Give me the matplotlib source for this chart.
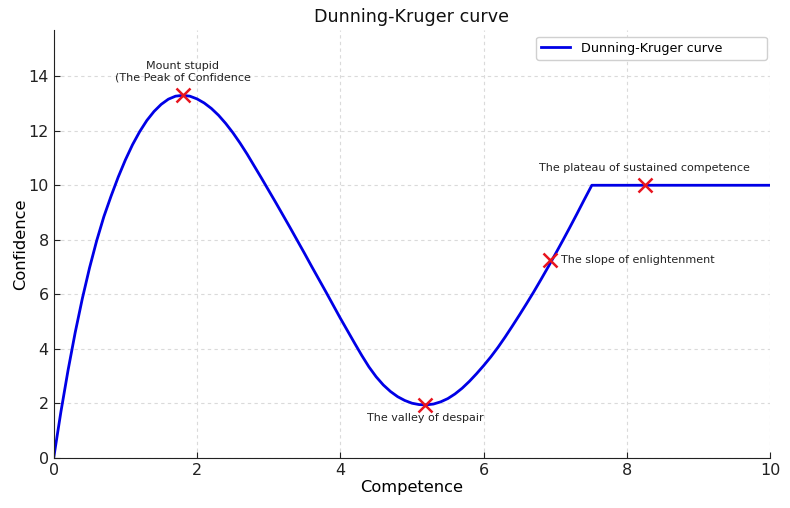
import matplotlib
matplotlib.use("Agg")
import matplotlib.pyplot as plt

# Curve (competence -> confidence)
competence = [0.0, 0.1, 0.2, 0.3, 0.4, 0.5, 0.6, 0.7, 0.8, 0.9,
              1.0, 1.1, 1.2, 1.3, 1.4, 1.5, 1.6, 1.7, 1.8, 1.9,
              2.0, 2.1, 2.2, 2.3, 2.4, 2.5, 2.6, 2.7, 2.8, 2.9,
              3.0, 3.1, 3.2, 3.3, 3.4, 3.5, 3.6, 3.7, 3.8, 3.9,
              4.0, 4.1, 4.2, 4.3, 4.4, 4.5, 4.6, 4.7, 4.8, 4.9,
              5.0, 5.1, 5.2, 5.3, 5.4, 5.5, 5.6, 5.7, 5.8, 5.9,
              6.0, 6.1, 6.2, 6.3, 6.4, 6.5, 6.6, 6.7, 6.8, 6.9,
              7.0, 7.1, 7.2, 7.3, 7.4, 7.51, 10.0]
confidence = [0.0, 1.68, 3.21, 4.6, 5.85, 6.97, 7.97, 8.85, 9.6, 10.3,
              10.93, 11.49, 11.97, 12.38, 12.71, 12.97, 13.16, 13.27, 13.3, 13.27,
              13.17, 13.02, 12.82, 12.57, 12.27, 11.93, 11.55, 11.14, 10.7, 10.26,
              9.81, 9.36, 8.9, 8.44, 7.97, 7.5, 7.02, 6.55, 6.08, 5.6,
              5.12, 4.66, 4.2, 3.75, 3.33, 2.97, 2.67, 2.43, 2.24, 2.1,
              2.0, 1.95, 1.94, 1.97, 2.05, 2.17, 2.34, 2.55, 2.8, 3.08,
              3.38, 3.7, 4.05, 4.43, 4.83, 5.24, 5.66, 6.09, 6.54, 7.0,
              7.47, 7.95, 8.44, 8.94, 9.45, 10.0, 10.0]

# Marked stages
stage_x = [1.8, 5.18, 6.93, 8.25]
stage_y = [13.3, 1.94, 7.27, 10.0]
stage_labels = ["Mount stupid\n(The Peak of Confidence",
                "The valley of despair",
                "The slope of enlightenment",
                "The plateau of sustained competence"]

fig = plt.figure(figsize=(7.9, 5.08), dpi=100)
ax = fig.add_axes([0.068, 0.099, 0.907, 0.842])

ax.plot(competence, confidence, color="#0000e6", lw=2.0, label="Dunning-Kruger curve")
ax.plot(stage_x, stage_y, ls="none", marker="x", color="#e8141e", ms=10, mew=1.8)

# label placement: (offset in points, ha, va)
placements = [((0, 9), "center", "bottom"),
              ((0, -6), "center", "top"),
              ((8, 0), "left", "center"),
              ((0, 9), "center", "bottom")]
for x, y, txt, (off, ha, va) in zip(stage_x, stage_y, stage_labels, placements):
    ax.annotate(txt, (x, y), xytext=off, textcoords="offset points",
                ha=ha, va=va, fontsize=8, color="#222222")

ax.set_xlim(0, 10)
ax.set_ylim(0, 15.7)
ax.set_xticks([0, 2, 4, 6, 8, 10])
ax.set_yticks([0, 2, 4, 6, 8, 10, 12, 14])
ax.tick_params(direction="in", length=4, labelsize=11.5, colors="#222222")
for side in ["top", "right"]:
    ax.spines[side].set_visible(False)
for side in ["left", "bottom"]:
    ax.spines[side].set_color("#222222")
ax.grid(True, ls=(0, (3, 3)), color="#dadada", lw=0.8)
ax.set_axisbelow(True)

ax.set_title("Dunning-Kruger curve", fontsize=12.6, color="#111111")
ax.set_xlabel("Competence", fontsize=11.7, labelpad=2)
ax.set_ylabel("Confidence", fontsize=11.7, labelpad=0)
# legend box stretched to the width seen in the reference
ax.legend(loc="upper right", bbox_to_anchor=(0.673, 0.5, 0.322, 0.484), mode="expand",
          borderaxespad=0, fontsize=9.2, handlelength=2.3, framealpha=1,
          edgecolor="#d0d0d0")

fig.savefig("out.png", dpi=100)
